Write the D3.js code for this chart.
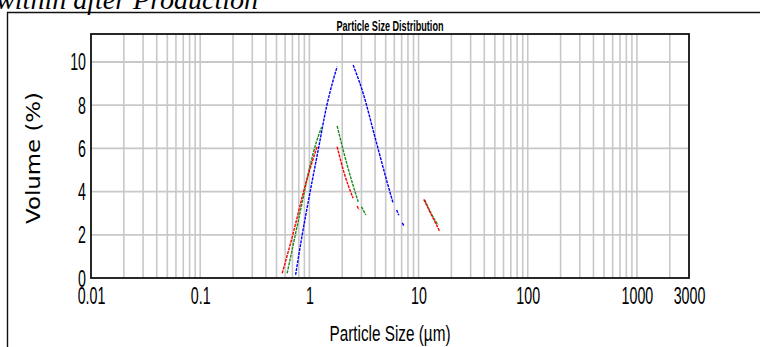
<!DOCTYPE html>
<html><head><meta charset="utf-8">
<script src="https://cdn.jsdelivr.net/npm/d3@7"></script>
<style>body{margin:0;background:#fff;} svg{display:block}</style>
</head><body><svg id="c" width="760" height="347"></svg>
<script>
// ---------- data ----------
const xTickValues = [0.01, 0.1, 1, 10, 100, 1000, 3000];
const xTickLabels = ["0.01", "0.1", "1", "10", "100", "1000", "3000"];
const yTickValues = [0, 2, 4, 6, 8, 10];
const yTickLabels = ["0", "2", "4", "6", "8", "10"];

// particle size (µm), volume (%)
const blueSeg1 = [[0.748,0.14],[0.86,2.0],[1.01,3.92],[1.205,5.93],[1.436,7.93],[1.62,9.0],[1.796,9.78]];
const blueSeg2 = [[2.52,9.86],[3.11,8.55],[3.98,6.54],[5.09,4.54],[5.85,3.46]];
const blueSeg3 = [[6.3,3.15],[6.6,2.9]];
const blueSeg4 = [[7.1,2.55],[7.33,2.42]];
const greenSeg1 = [[0.626,0.22],[0.819,3.0],[1.01,5.15],[1.16,6.3],[1.294,6.98]];
const greenSeg2 = [[1.796,7.04],[2.2,5.3],[2.8,3.53]];
const greenSeg3 = [[3.0,3.3],[3.29,2.92]];
const greenSeg4 = [[11.4,3.61],[13.0,3.0],[15.1,2.45]];
const redSeg1 = [[0.564,0.22],[0.711,2.07],[0.877,3.92],[1.05,5.3],[1.178,6.08]];
const redSeg2 = [[1.796,6.08],[2.1,4.8],[2.52,3.69]];
const redSeg3 = [[2.74,3.33],[2.85,3.15]];
const redSeg4 = [[11.17,3.64],[13.2,2.9],[15.7,2.14]];

const seriesNames = ["blue", "green", "red"];
const seriesColors = ["#0000ff", "#1a8a1a", "#ff0000"];
const seriesSegments = [
  [blueSeg1, blueSeg2, blueSeg3, blueSeg4],
  [greenSeg1, greenSeg2, greenSeg3, greenSeg4],
  [redSeg1, redSeg2, redSeg3, redSeg4]
];

// ---------- layout ----------
const svg = d3.select("#c");
const L = 91, R = 689, T = 34, B = 278;
const x = d3.scaleLog().domain([0.01, 3000]).range([L, R]);
const y = d3.scaleLinear().domain([0, 11.296]).range([B, T]);

// outer frame
svg.append("path").attr("d", `M7.5,347 V12.5 H760`)
  .attr("fill", "none").attr("stroke", "#111").attr("stroke-width", 1.4);

// top clipped caption
svg.append("text").attr("x", 258).attr("y", 9).attr("text-anchor", "end")
  .attr("font-family", "Liberation Serif").attr("font-style", "italic")
  .attr("font-size", 28).attr("fill", "#000").text("within after Production");

// title
svg.append("text").attr("x", 390).attr("y", 30.5).attr("text-anchor", "middle")
  .attr("font-family", "Liberation Sans").attr("font-weight", "bold")
  .attr("font-size", 15).attr("textLength", 107).attr("lengthAdjust", "spacingAndGlyphs")
  .attr("fill", "#000").text("Particle Size Distribution");

// gridlines
const vGrid = [];
for (let e = -2; e <= 3; e++) {
  for (let m = 1; m <= 9; m++) {
    const v = m * Math.pow(10, e);
    if (v > 0.0100001 && v < 2999) vGrid.push(v);
  }
}
const g = svg.append("g");
g.selectAll("line.v").data(vGrid).join("line").attr("class", "v")
  .attr("x1", d => x(d)).attr("x2", d => x(d)).attr("y1", T).attr("y2", B)
  .attr("stroke", "#c8c8c8").attr("stroke-width", 1.6);
g.selectAll("line.h").data(yTickValues.filter(d => d > 0)).join("line").attr("class", "h")
  .attr("x1", L).attr("x2", R).attr("y1", d => y(d)).attr("y2", d => y(d))
  .attr("stroke", "#c8c8c8").attr("stroke-width", 1.8);

// curves
svg.append("clipPath").attr("id", "clip").append("rect")
  .attr("x", L).attr("y", T).attr("width", R - L).attr("height", B - T);
const line = d3.line().x(d => x(d[0])).y(d => y(d[1])).curve(d3.curveMonotoneX);
const cg = svg.append("g").attr("clip-path", "url(#clip)");
seriesSegments.forEach((segs, i) => {
  cg.selectAll(null).data(segs).join("path")
    .attr("d", line).attr("fill", "none")
    .attr("stroke", seriesColors[i]).attr("stroke-width", 1.4)
    .attr("stroke-dasharray", "3,1");
});

// frame
svg.append("rect").attr("x", L).attr("y", T).attr("width", R - L).attr("height", B - T)
  .attr("fill", "none").attr("stroke", "#111").attr("stroke-width", 1.8);

// axes
const xAxis = d3.axisBottom(x).tickValues(xTickValues)
  .tickFormat((d, i) => xTickLabels[i]).tickSize(0).tickPadding(0);
const xa = svg.append("g").attr("transform", `translate(0,${B})`).call(xAxis);
xa.select(".domain").remove();
xa.selectAll("text").attr("font-family", "Liberation Sans").attr("font-size", 23)
  .attr("fill", "#000").attr("y", 0).attr("dy", null)
  .attr("transform", "translate(0,26) scale(0.62,1)");

const yAxis = d3.axisLeft(y).tickValues(yTickValues)
  .tickFormat((d, i) => yTickLabels[i]).tickSize(0).tickPadding(0);
const ya = svg.append("g").attr("transform", `translate(${L},0)`).call(yAxis);
ya.select(".domain").remove();
ya.selectAll("text").attr("font-family", "Liberation Sans").attr("font-size", 23)
  .attr("fill", "#000").attr("x", 0).attr("dy", null)
  .attr("transform", "translate(-5,8) scale(0.62,1)");

// axis titles
svg.append("text").attr("x", 390).attr("y", 341).attr("text-anchor", "middle")
  .attr("font-family", "Liberation Sans").attr("font-size", 22)
  .attr("textLength", 121).attr("lengthAdjust", "spacingAndGlyphs")
  .attr("fill", "#000").text("Particle Size (µm)");

svg.append("text").attr("transform", "translate(40,158) rotate(-90)")
  .attr("text-anchor", "middle").attr("font-family", "DejaVu Sans").attr("font-size", 19)
  .attr("textLength", 132).attr("lengthAdjust", "spacingAndGlyphs")
  .attr("fill", "#000").text("Volume (%)");
</script></body></html>
